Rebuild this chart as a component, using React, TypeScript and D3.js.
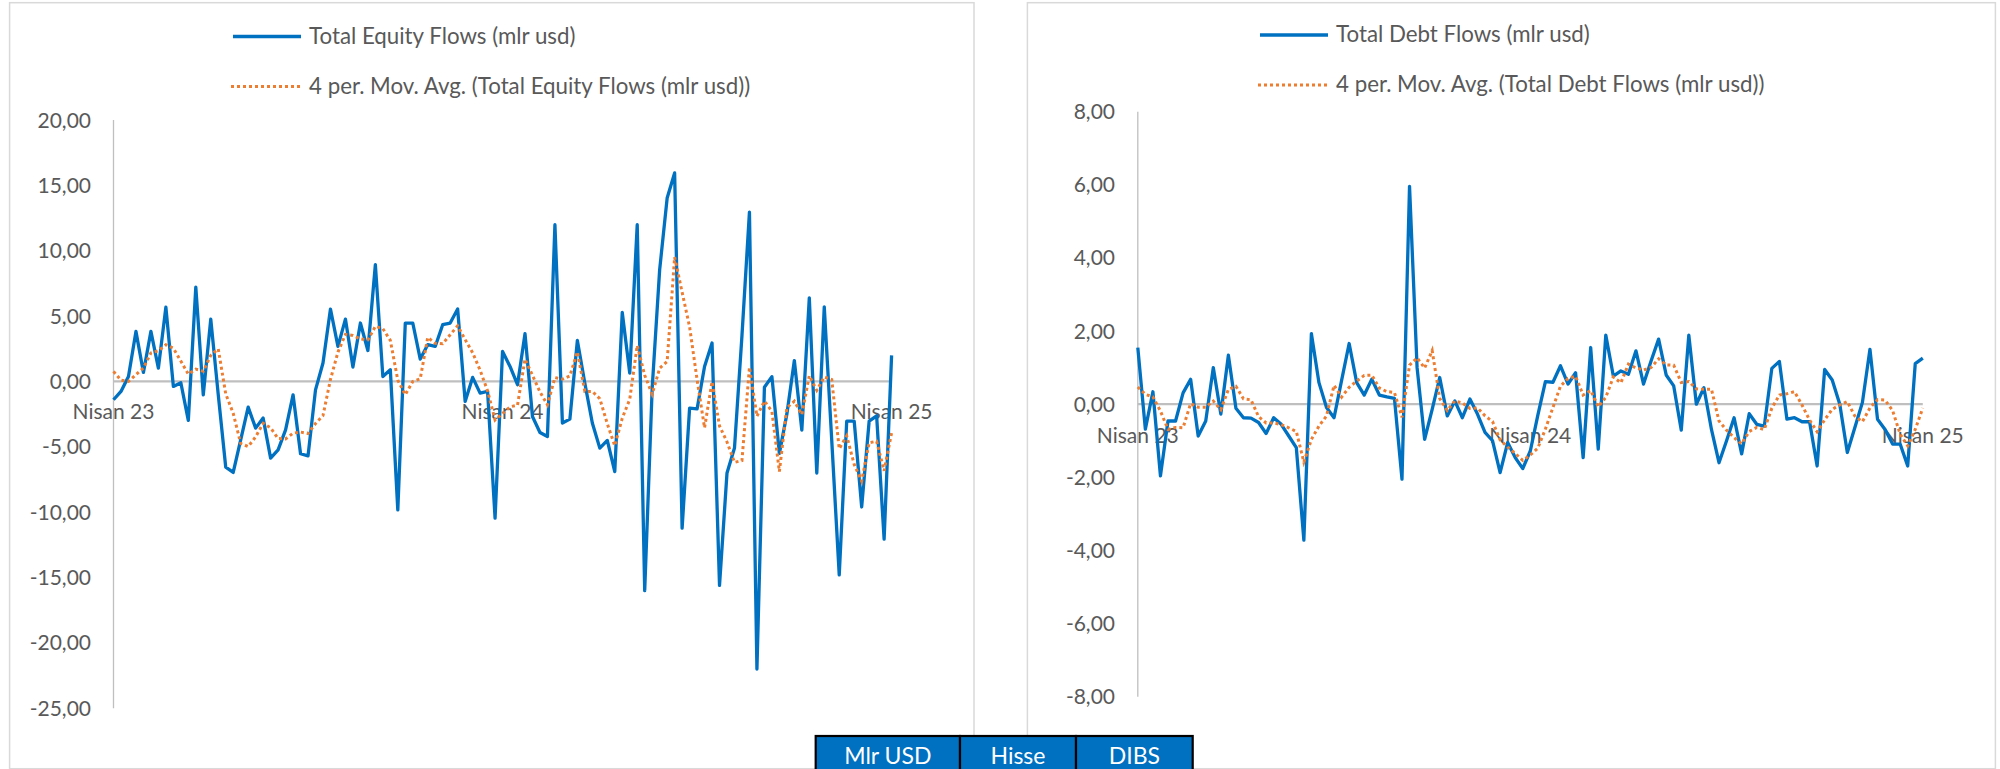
import React from "react";
import * as d3 from "d3";

// ---------- DATA ----------
const xLabels = ["Nisan 23", "Nisan 24", "Nisan 25"];
const xLabelIndex = [0, 52, 104];

const equityTicks = [20, 15, 10, 5, 0, -5, -10, -15, -20, -25];
const debtTicks = [8, 6, 4, 2, 0, -2, -4, -6, -8];

const equitySeriesName = "Total Equity Flows (mlr usd)";
const equityTrendName = "4 per. Mov. Avg. (Total Equity Flows (mlr usd))";
const debtSeriesName = "Total Debt Flows (mlr usd)";
const debtTrendName = "4 per. Mov. Avg. (Total Debt Flows (mlr usd))";

const tableCells = ["Mlr USD", "Hisse", "DIBS"];

// weeks before Nisan 23 (only feed the moving average)
const equityPrior = [1.92, 0.78, 1.78];
const equityFlows = [
  -1.4, -0.76, 0.38, 3.83, 0.69, 3.83, 1.02, 5.69, -0.38, -0.1,
  -2.98, 7.22, -1.02, 4.77, -1.0, -6.55, -6.96, -4.46, -1.96, -3.57,
  -2.8, -5.86, -5.23, -3.7, -1.02, -5.53, -5.69, -0.64, 1.41, 5.54,
  2.68, 4.77, 1.1, 4.47, 2.37, 8.93, 0.38, 0.9, -9.82, 4.47,
  4.47, 1.71, 2.81, 2.68, 4.34, 4.47, 5.54, -1.53, 0.31, -0.89,
  -0.76, -10.45, 2.3, 1.15, -0.25, 3.65, -2.68, -3.9, -4.21, 11.99,
  -3.18, -2.88, 3.14, -0.13, -3.18, -5.1, -4.51, -6.89, 5.28, 0.64,
  11.99, -16.0, -0.5, 8.55, 14.03, 15.95, -11.22, -2.04, -2.1, 1.15,
  2.94, -15.6, -7.0, -5.09, 3.5, 12.95, -22.0, -0.44, 0.37, -5.5,
  -2.5, 1.6, -3.72, 6.39, -7.0, 5.7, -4.5, -14.8, -3.04, -3.04,
  -9.6, -3.04, -2.63, -12.06, 2.0,
];

const debtPrior = [0.12, 0.62, -0.41];
const debtFlows = [
  1.55, -0.68, 0.34, -1.96, -0.46, -0.46, 0.31, 0.68, -0.87, -0.46,
  1.0, -0.27, 1.34, -0.11, -0.37, -0.38, -0.5, -0.8, -0.37, -0.55,
  -0.87, -1.19, -3.72, 1.93, 0.59, -0.09, -0.37, 0.65, 1.66, 0.59,
  0.25, 0.68, 0.25, 0.2, 0.16, -2.05, 5.96, 1.0, -0.96, -0.14,
  0.73, -0.32, 0.09, -0.37, 0.14, -0.27, -0.77, -1.0, -1.87, -1.05,
  -1.46, -1.76, -1.28, -0.3, 0.62, 0.6, 1.05, 0.55, 0.86, -1.46,
  1.55, -1.23, 1.89, 0.77, 0.91, 0.82, 1.46, 0.55, 1.18, 1.78,
  0.8, 0.5, -0.71, 1.89, 0.0, 0.45, -0.69, -1.6, -1.0, -0.37,
  -1.36, -0.26, -0.55, -0.6, 0.98, 1.17, -0.41, -0.37, -0.48, -0.48,
  -1.69, 0.95, 0.66, 0.0, -1.32, -0.64, 0.05, 1.5, -0.41, -0.69,
  -1.09, -1.09, -1.69, 1.11, 1.26,
];

// ---------- helpers ----------
const fmt = d3
  .formatLocale({ decimal: ",", thousands: ".", grouping: [3], currency: ["", ""], minus: "-" })
  .format(".2f");

function movingAverage(prior: number[], values: number[], period: number): number[] {
  const all = prior.concat(values);
  const off = prior.length;
  return values.map((_, i) => d3.mean(all.slice(off + i - period + 1, off + i + 1)) as number);
}

const BLUE = "#0070C0";
const ORANGE = "#ED7D31";
const TEXT = "#595959";
const AXIS = "#bfbfbf";
const FONT = "Lato, 'Open Sans', sans-serif";

type PanelProps = {
  frame: [number, number, number, number];
  xRange: [number, number];
  yDomain: [number, number];
  yRange: [number, number];
  values: number[];
  prior: number[];
  ticks: number[];
  tickRight: number;
  labelDy: number;
  legendX: number;
  legendY: [number, number];
  seriesName: string;
  trendName: string;
};

function Panel(p: PanelProps) {
  const x = d3.scaleLinear().domain([0, p.values.length - 1]).range(p.xRange);
  const y = d3.scaleLinear().domain(p.yDomain).range(p.yRange);
  const ma = movingAverage(p.prior, p.values, 4);
  const line = d3
    .line<number>()
    .x((_, i) => x(i))
    .y((d) => y(d));
  const [fx, fy, fw, fh] = p.frame;
  const y0 = y(0);
  return (
    <g>
      <rect x={fx} y={fy} width={fw} height={fh} fill="#fff" stroke="#d9d9d9" strokeWidth={1.5} />
      {/* legend */}
      <line x1={p.legendX} x2={p.legendX + 68} y1={p.legendY[0] - 7} y2={p.legendY[0] - 7} stroke={BLUE} strokeWidth={3.5} />
      <text x={p.legendX + 76} y={p.legendY[0]} fill={TEXT} fontSize={22.3} fontFamily={FONT}>
        {p.seriesName}
      </text>
      <line x1={p.legendX - 2} x2={p.legendX + 68} y1={p.legendY[1] - 7} y2={p.legendY[1] - 7} stroke={ORANGE} strokeWidth={3} strokeDasharray="3 3" />
      <text x={p.legendX + 76} y={p.legendY[1]} fill={TEXT} fontSize={22.3} fontFamily={FONT}>
        {p.trendName}
      </text>
      {/* y axis */}
      <line x1={x(0)} x2={x(0)} y1={y(p.yDomain[1])} y2={y(p.yDomain[0])} stroke={AXIS} strokeWidth={1.3} />
      {p.ticks.map((t) => (
        <text key={t} x={p.tickRight} y={y(t) + 7.5} textAnchor="end" fill={TEXT} fontSize={21} fontFamily={FONT}>
          {fmt(t)}
        </text>
      ))}
      {/* category axis at zero */}
      <line x1={x(0)} x2={x(p.values.length - 1)} y1={y0} y2={y0} stroke={AXIS} strokeWidth={2.2} />
      {xLabels.map((l, k) => (
        <text key={l} x={x(xLabelIndex[k])} y={y0 + p.labelDy} textAnchor="middle" fill={TEXT} fontSize={21} fontFamily={FONT}>
          {l}
        </text>
      ))}
      {/* series */}
      <path d={line(p.values) || ""} fill="none" stroke={BLUE} strokeWidth={3.3} strokeLinejoin="round" />
      <path d={line(ma) || ""} fill="none" stroke={ORANGE} strokeWidth={3} strokeDasharray="3 3" />
    </g>
  );
}

export default function App() {
  const cellEdges = [815.7, 960, 1076, 1192.7];
  const cx = d3.scaleOrdinal<string, number>().domain(tableCells).range(cellEdges.slice(0, 3));
  return (
    <svg
      width={2000}
      height={769}
      viewBox="0 0 2000 769"
      style={{ position: "absolute", left: 0, top: 0, background: "#fff" }}
    >
      <rect x={0} y={0} width={2000} height={769} fill="#fff" />
      <Panel
        frame={[9.6, 2.7, 964.4, 766]}
        xRange={[113.5, 891.6]}
        yDomain={[-25, 20]}
        yRange={[708.3, 120]}
        values={equityFlows}
        prior={equityPrior}
        ticks={equityTicks}
        tickRight={91}
        labelDy={37.5}
        legendX={233}
        legendY={[43.5, 93.5]}
        seriesName={equitySeriesName}
        trendName={equityTrendName}
      />
      <Panel
        frame={[1027.4, 2.7, 968, 766]}
        xRange={[1137.8, 1922.8]}
        yDomain={[-8, 8]}
        yRange={[696.7, 111.7]}
        values={debtFlows}
        prior={debtPrior}
        ticks={debtTicks}
        tickRight={1115}
        labelDy={38.7}
        legendX={1260}
        legendY={[42, 92]}
        seriesName={debtSeriesName}
        trendName={debtTrendName}
      />
      {/* bottom tab table */}
      {tableCells.map((c, i) => {
        const x0 = cx(c);
        const x1 = cellEdges[i + 1];
        return (
          <g key={c}>
            <rect x={x0} y={736} width={x1 - x0} height={40} fill={BLUE} stroke="#000" strokeWidth={2.2} />
            <text x={(x0 + x1) / 2} y={764} textAnchor="middle" fill="#fff" fontSize={23} fontFamily={FONT}>
              {c}
            </text>
          </g>
        );
      })}
    </svg>
  );
}
